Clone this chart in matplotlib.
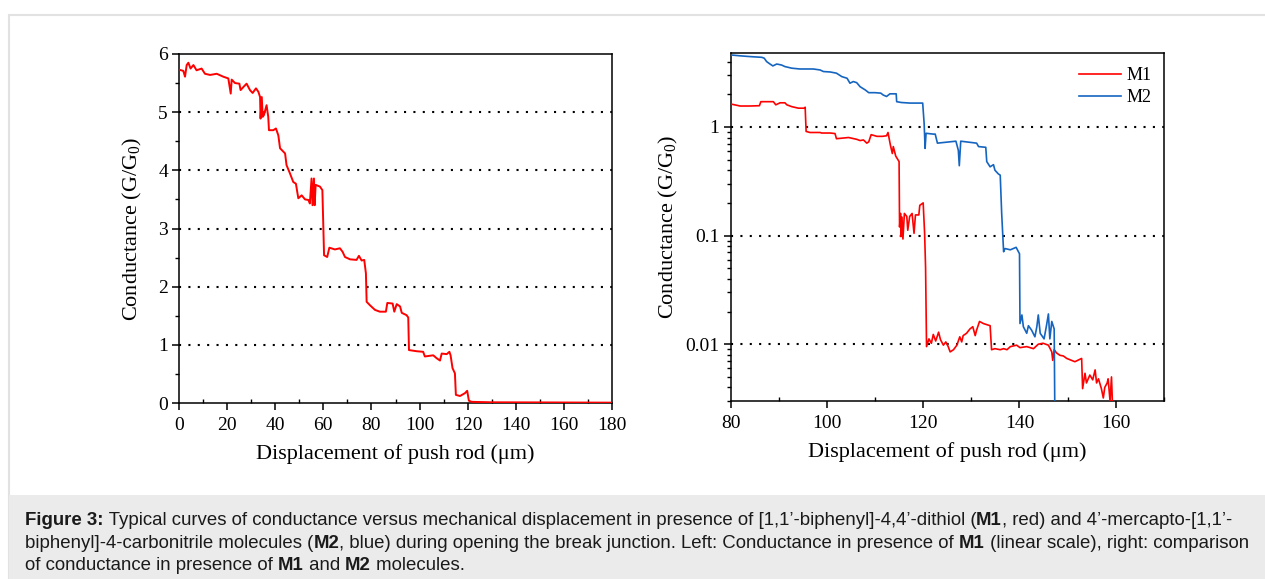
import matplotlib
matplotlib.use("Agg")
import matplotlib.pyplot as plt
from matplotlib.patches import Rectangle
from matplotlib.ticker import MultipleLocator, LogLocator, FixedLocator, FuncFormatter, NullFormatter

plt.rcParams["font.family"] = ["Liberation Serif", "DejaVu Serif"]
plt.rcParams["mathtext.fontset"] = "custom"
plt.rcParams["mathtext.rm"] = "Liberation Serif"
plt.rcParams["mathtext.it"] = "Liberation Serif:italic"

# left panel: M1, linear scale
m1_lin_x = [0, 1.8, 2.5, 3.2, 3.9, 4.8, 6.0, 7.3, 9.4, 10.8, 12.9, 15.7, 18.4, 20.5, 21.5, 21.9,
            23.3, 25.1, 25.6, 27.4, 28.1, 29.5, 30.6, 32.0, 33.0, 33.7, 33.9, 34.4, 34.8, 35.3,
            36.4, 37.1, 37.4, 39.2, 40.3, 41.3, 42.0, 44.1, 44.7, 46.1, 47.5, 48.6, 49.6, 51.0,
            52.4, 53.8, 54.4, 55.1, 55.5, 56.1, 56.4, 56.8, 58.6, 59.6, 60.0, 60.3, 61.6, 62.5,
            64.8, 66.9, 68.0, 69.0, 71.1, 73.8, 74.8, 75.9, 77.0, 77.7, 78.0, 79.4, 81.5, 83.5,
            86.0, 86.6, 88.8, 89.5, 90.5, 91.9, 92.6, 94.6, 95.3, 95.6, 98.8, 101.5, 102.2,
            105.7, 107.1, 108.5, 109.2, 111.3, 112.4, 112.9, 113.7, 114.7, 115.1, 116.8, 118.9,
            119.8, 120.5, 121.6, 130, 150, 165, 180]
m1_lin_g = [5.73, 5.71, 5.61, 5.81, 5.85, 5.75, 5.81, 5.72, 5.75, 5.66, 5.64, 5.66, 5.61, 5.58,
            5.32, 5.56, 5.50, 5.49, 5.38, 5.46, 5.49, 5.38, 5.33, 5.41, 5.35, 5.26, 4.89, 5.26,
            4.92, 4.95, 5.12, 4.92, 4.69, 4.69, 4.72, 4.60, 4.38, 4.29, 4.09, 3.95, 3.80, 3.77,
            3.52, 3.57, 3.50, 3.49, 3.43, 3.86, 3.40, 3.86, 3.40, 3.75, 3.72, 3.66, 3.03, 2.54,
            2.51, 2.67, 2.64, 2.66, 2.60, 2.51, 2.47, 2.46, 2.53, 2.45, 2.46, 2.23, 1.74, 1.68,
            1.60, 1.57, 1.57, 1.72, 1.71, 1.57, 1.70, 1.66, 1.55, 1.51, 1.47, 0.91, 0.89, 0.88,
            0.80, 0.82, 0.77, 0.73, 0.85, 0.84, 0.88, 0.82, 0.60, 0.51, 0.14, 0.12, 0.17, 0.21,
            0.04, 0.02, 0.012, 0.01, 0.008, 0.006]

# right panel: M1 and M2, log scale
m1_x = [80, 82.0, 84.0, 86.0, 86.3, 88.9, 89.4, 90.3, 91.3, 91.7, 92.7, 94.1, 95.3, 95.5, 95.7,
        96.5, 98.6, 98.9, 100.7, 101.7, 102.0, 104.5, 106.2, 106.9, 107.6, 108.3, 108.7, 109.2,
        110.4, 111.5, 112.4, 112.7, 113.2, 113.6, 113.8, 114.3, 115.0, 115.1, 115.3, 115.4,
        115.6, 115.8, 116.1, 116.6, 116.8, 117.2, 117.7, 118.1, 118.4, 119.1, 119.3, 120.0,
        120.3, 120.5, 120.6, 120.7, 121.2, 121.7, 122.1, 122.6, 123.2, 123.6, 124.2, 124.7,
        125.2, 125.6, 126.3, 127.0, 127.6, 128.0, 128.3, 129.0, 129.7, 130.3, 130.8, 131.1,
        131.7, 132.5, 133.9, 134.2, 134.9, 136.0, 136.7, 137.4, 138.1, 139.4, 140.1, 141.5,
        142.9, 143.9, 144.9, 146.0, 146.7, 146.9, 147.2, 147.7, 148.4, 149.1, 149.8, 150.8,
        151.5, 152.9, 153.1, 153.6, 153.9, 154.6, 155.2, 155.7, 156.0, 156.4, 157.0, 157.4,
        157.7, 158.2, 158.4, 158.8, 159.1, 159.3]
m1_g = [1.63, 1.56, 1.56, 1.57, 1.71, 1.71, 1.60, 1.67, 1.67, 1.60, 1.54, 1.49, 1.49, 1.52, 0.91,
        0.89, 0.89, 0.88, 0.88, 0.87, 0.78, 0.80, 0.77, 0.75, 0.76, 0.71, 0.73, 0.85, 0.82, 0.82,
        0.83, 0.89, 0.68, 0.57, 0.66, 0.54, 0.48, 0.12, 0.16, 0.098, 0.148, 0.093, 0.16, 0.15,
        0.112, 0.15, 0.16, 0.105, 0.155, 0.155, 0.19, 0.20, 0.105, 0.051, 0.022, 0.0095, 0.0112,
        0.0102, 0.0123, 0.0107, 0.0129, 0.011, 0.0098, 0.0105, 0.0095, 0.0085, 0.0089, 0.0098,
        0.0117, 0.0105, 0.012, 0.0126, 0.0138, 0.0145, 0.012, 0.0135, 0.0162, 0.0155, 0.0148,
        0.0089, 0.0091, 0.0089, 0.0091, 0.0089, 0.0095, 0.0098, 0.0093, 0.0095, 0.0091, 0.010,
        0.0102, 0.0098, 0.0085, 0.0071, 0.0089, 0.0083, 0.0079, 0.0078, 0.0074, 0.0071, 0.0069,
        0.0074, 0.0039, 0.0054, 0.0044, 0.0052, 0.0047, 0.0058, 0.0044, 0.0048, 0.0039, 0.0032,
        0.0040, 0.0044, 0.0048, 0.0030, 0.0050, 0.0028]

m2_x = [80, 82.0, 84.0, 86.5, 87.0, 87.5, 88.2, 88.8, 89.6, 90.6, 91.3, 92.7, 94.4, 97.2, 98.6,
        99.3, 100.7, 102.0, 103.1, 104.2, 104.8, 105.5, 106.2, 106.9, 108.0, 108.7, 110.0, 111.2,
        111.7, 112.4, 113.1, 114.4, 114.5, 115.5, 117.3, 119.9, 120.2, 120.4, 120.6, 122.1,
        122.5, 122.96, 126.8, 127.3, 127.5, 127.8, 131.1, 131.5, 133.0, 133.2, 133.9, 134.6,
        134.9, 135.6, 136.0, 136.3, 136.7, 137.0, 138.1, 139.3, 140.0, 140.1, 140.5, 140.8,
        141.5, 141.85, 142.5, 143.2, 143.6, 143.9, 144.3, 145.1, 145.6, 146.0, 146.3, 146.7,
        147.2, 147.4]
m2_g = [4.61, 4.52, 4.45, 4.38, 4.30, 4.00, 3.80, 3.65, 3.80, 3.72, 3.60, 3.48, 3.42, 3.42, 3.35,
        3.24, 3.21, 3.13, 2.91, 2.81, 2.53, 2.62, 2.56, 2.35, 2.19, 2.07, 2.07, 2.05, 1.97, 1.91,
        2.02, 2.02, 1.71, 1.68, 1.66, 1.66, 1.08, 0.635, 0.875, 0.86, 0.86, 0.71, 0.74, 0.61,
        0.44, 0.74, 0.71, 0.66, 0.65, 0.48, 0.43, 0.45, 0.40, 0.37, 0.36, 0.16, 0.071, 0.076,
        0.074, 0.078, 0.068, 0.0155, 0.0186, 0.0145, 0.0126, 0.0148, 0.0135, 0.0117, 0.0145,
        0.0186, 0.0126, 0.0112, 0.0148, 0.019, 0.0112, 0.0162, 0.0138, 0.001]

lin_levels = [1, 2, 3, 4, 5]
log_levels = [0.01, 0.1, 1]

RED = "#ff0000"
BLUE = "#1565c0"

W, H = 1265, 579
fig = plt.figure(figsize=(W / 100, H / 100), dpi=100)

# page-like background: white panel with light border, grey caption box
fig.patches.append(Rectangle((9 / W, 0), 1.2, 1 - 15 / H, transform=fig.transFigure,
                             facecolor="white", edgecolor="#e2e2e2", linewidth=1.5, zorder=-3))
fig.patches.append(Rectangle((9 / W, 0), 1.2, 1 - 495 / H, transform=fig.transFigure,
                             facecolor="#ebebeb", edgecolor="none", zorder=-2))


def style_axes(ax):
    for s in ax.spines.values():
        s.set_linewidth(1.1)
        s.set_color("black")
    ax.tick_params(axis="both", which="major", labelsize=14, width=1.1, length=5,
                   direction="out", pad=3)
    ax.tick_params(axis="x", which="major", pad=5)
    ax.tick_params(axis="y", which="minor", width=1.0, length=3, direction="out")
    ax.tick_params(axis="x", which="minor", width=1.0, length=3, direction="in")
    ax.tick_params(top=False, right=False, which="both")


# left panel
ax1 = fig.add_axes([179 / W, 1 - 403 / H, 433 / W, 349 / H])
for lv in lin_levels:
    ax1.axhline(lv, color="black", linestyle=(0, (1, 3.5)), linewidth=1.5, zorder=1)
ax1.plot(m1_lin_x, m1_lin_g, color=RED, linewidth=1.4, zorder=3)
ax1.set_xlim(0, 180)
ax1.set_ylim(0, 6)
ax1.xaxis.set_major_locator(MultipleLocator(20))
ax1.xaxis.set_minor_locator(MultipleLocator(10))
ax1.yaxis.set_major_locator(MultipleLocator(1))
ax1.yaxis.set_minor_locator(MultipleLocator(0.5))
style_axes(ax1)
ax1.set_xlabel("Displacement of push rod (μm)", fontsize=16, labelpad=7)
ax1.set_ylabel("Conductance (G/G$_0$)", fontsize=16, labelpad=10)

# right panel
ax2 = fig.add_axes([730.5 / W, 1 - 401 / H, 433.5 / W, 348 / H])
ax2.set_yscale("log")
for lv in log_levels:
    ax2.axhline(lv, color="black", linestyle=(0, (1, 3.5)), linewidth=1.5, zorder=1)
ax2.plot(m1_x, m1_g, color=RED, linewidth=1.2, label="M1", zorder=3)
ax2.plot(m2_x, m2_g, color=BLUE, linewidth=1.2, label="M2", zorder=3)
ax2.set_xlim(80, 170)
ax2.set_ylim(0.003, 4.8)
ax2.xaxis.set_major_locator(MultipleLocator(20))
ax2.xaxis.set_minor_locator(MultipleLocator(10))
ax2.yaxis.set_major_locator(FixedLocator(log_levels))
ax2.yaxis.set_major_formatter(FuncFormatter(lambda v, p: f"{v:g}"))
ax2.yaxis.set_minor_locator(LogLocator(base=10, subs=range(2, 10)))
ax2.yaxis.set_minor_formatter(NullFormatter())
style_axes(ax2)
ax2.set_xlabel("Displacement of push rod (μm)", fontsize=16, labelpad=7)
ax2.set_ylabel("Conductance (G/G$_0$)", fontsize=16, labelpad=4)
ax2.legend(loc="upper right", bbox_to_anchor=(1.0, 0.995), frameon=False, fontsize=13,
           handlelength=2.3, handletextpad=0.3, labelspacing=0.25, borderaxespad=0.3)

# caption with mixed bold segments
cap_lines = [
    [("Figure 3:", True),
     (" Typical curves of conductance versus mechanical displacement in presence of "
      "[1,1’-biphenyl]-4,4’-dithiol (", False),
     ("M1", True), (", red) and 4’-mercapto-[1,1’-", False)],
    [("biphenyl]-4-carbonitrile molecules (", False), ("M2", True),
     (", blue) during opening the break junction. Left: Conductance in presence of ", False),
     ("M1", True), (" (linear scale), right: comparison", False)],
    [("of conductance in presence of ", False), ("M1", True), (" and ", False),
     ("M2", True), (" molecules.", False)],
]
cap_y = [525, 548, 570]
cap_size = 13.4
renderer = fig.canvas.get_renderer()


def seg_width(txt, bold):
    kw = dict(fontsize=cap_size, family="Liberation Sans",
              fontweight="bold" if bold else "normal")
    a = fig.text(0, 0, "x" + txt + "x", **kw)
    b = fig.text(0, 0, "xx", **kw)
    w = a.get_window_extent(renderer).width - b.get_window_extent(renderer).width
    a.remove()
    b.remove()
    return w


for segs, yy in zip(cap_lines, cap_y):
    xpos = 25.0
    for txt, bold in segs:
        fig.text(xpos / W, 1 - yy / H, txt, fontsize=cap_size, family="Liberation Sans",
                 fontweight="bold" if bold else "normal", color="#1a1a1a",
                 va="baseline", ha="left", zorder=5)
        xpos += seg_width(txt, bold)

fig.savefig("out.png", dpi=100)
